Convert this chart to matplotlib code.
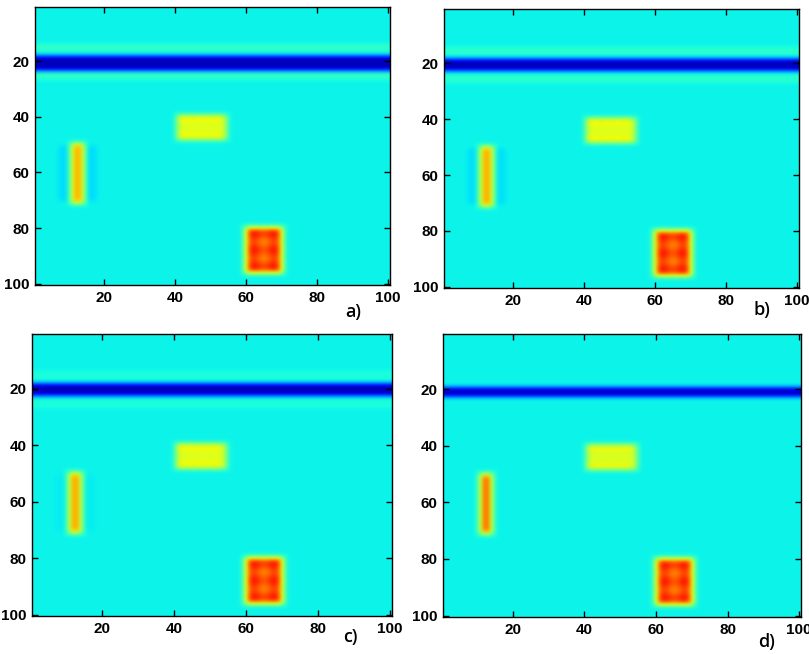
import numpy as np
import matplotlib
matplotlib.use("Agg")
import matplotlib.pyplot as plt

plt.rcParams["font.family"] = ["Liberation Sans", "DejaVu Sans"]
plt.rcParams["font.weight"] = "bold"

# grid size of each reconstructed map
N = 100

panel_labels = ["a)", "b)", "c)", "d)"]
tick_values = [20, 40, 60, 80, 100]

# background level (jet scale 0..1)
background = [0.365, 0.365, 0.365, 0.365]

# horizontal dark band (rows, 1-based inclusive)
line_rows = [(19, 23), (19, 22), (19, 22), (20, 22)]
line_level = [0.05, 0.05, 0.05, 0.05]
# faint lighter stripes above/below the band
halo_rows = [(15, 16), (25, 26)]
halo_level = [0.42, 0.41, 0.39, 0.365]

# yellow rectangle
rect_rows = (40, 48)
rect_cols = (41, 54)
rect_level = [0.62, 0.62, 0.62, 0.61]
rect_dash_level = [0.76, 0.77, 0.78, 0.78]

# vertical bar
bar_rows = (51, 70)
bar_cols = [(12, 13), (12, 13), (12, 13), (12, 13)]
bar_level = [0.74, 0.75, 0.76, 0.84]
bar_rim_level = [0.62, 0.62, 0.60, 0.58]
bar_shadow_cols = [(8, 9), (16, 17)]
bar_shadow_level = [0.335, 0.34, 0.355, 0.365]

# red square with its checker pattern (5 row groups x 3 col groups)
square_rows = (81, 95)
square_cols = (61, 69)
square_pattern = [
    [0.89, 0.84, 0.89],
    [0.84, 0.77, 0.84],
    [0.89, 0.82, 0.89],
    [0.84, 0.77, 0.84],
    [0.89, 0.84, 0.89],
]
square_rim_level = [0.64, 0.64, 0.64, 0.64]


def soften(z):
    # light [1, 2, 1] smoothing so the image looks like the blurry original
    p = np.pad(z, 1, mode="edge")
    z = (p[:-2, 1:-1] + 2 * p[1:-1, 1:-1] + p[2:, 1:-1]) / 4
    p = np.pad(z, ((0, 0), (1, 1)), mode="edge")
    return (p[:, :-2] + 2 * p[:, 1:-1] + p[:, 2:]) / 4


def build_map(i):
    z = np.full((N, N), background[i])
    r0, r1 = line_rows[i]
    for h0, h1 in halo_rows:
        z[h0 - 1:h1, :] = halo_level[i]
    z[r0 - 1:r1, :] = line_level[i]

    # rectangle
    z[rect_rows[0] - 1:rect_rows[1], rect_cols[0] - 1:rect_cols[1]] = rect_level[i]
    for rr in (rect_rows[0] + 1, rect_rows[1] - 1):
        for cc in range(rect_cols[0] + 1, rect_cols[1], 3):
            z[rr - 1, cc - 1] = rect_dash_level[i]

    # bar
    c0, c1 = bar_cols[i]
    for s0, s1 in bar_shadow_cols:
        z[bar_rows[0] - 1:bar_rows[1], s0 - 1:s1] = bar_shadow_level[i]
    z[bar_rows[0] - 2:bar_rows[1] + 1, c0 - 2:c1 + 1] = bar_rim_level[i]
    z[bar_rows[0] - 1:bar_rows[1], c0 - 1:c1] = bar_level[i]

    # square
    z[square_rows[0] - 2:square_rows[1] + 1,
      square_cols[0] - 2:square_cols[1] + 1] = square_rim_level[i]
    pat = np.kron(np.array(square_pattern), np.ones((3, 3)))
    z[square_rows[0] - 1:square_rows[1], square_cols[0] - 1:square_cols[1]] = pat
    return soften(z)


W, H = 809, 654
fig = plt.figure(figsize=(W / 100, H / 100), dpi=100)

# axes boxes in pixels: left, top, right, bottom
boxes = [(35, 7, 390, 285), (444, 9, 799, 288),
         (32, 334, 392, 616), (443, 334, 801, 617)]
label_pos = [(353, 312), (762, 310), (350, 637), (767, 642)]

for i in range(4):
    l, t, r, b = boxes[i]
    ax = fig.add_axes([l / W, 1 - b / H, (r - l) / W, (b - t) / H])
    ax.imshow(build_map(i), cmap="jet", vmin=0, vmax=1, aspect="auto",
              interpolation="bicubic", extent=(0.5, 100.5, 100.5, 0.5))
    ax.set_xlim(0.5, 100.5)
    ax.set_ylim(100.5, 0.5)
    ax.set_xticks(tick_values)
    ax.set_yticks(tick_values)
    ax.tick_params(direction="in", top=True, right=True, length=4, width=1,
                   labelsize=11, pad=4)
    for sp in ax.spines.values():
        sp.set_linewidth(1)
    lx, ly = label_pos[i]
    fig.text(lx / W, 1 - ly / H, panel_labels[i], fontsize=13,
             family="Open Sans", fontweight="semibold", ha="center", va="center")

fig.savefig("out.png", dpi=100)
